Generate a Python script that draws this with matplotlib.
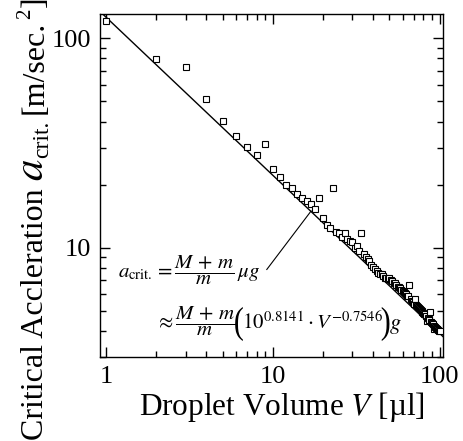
import matplotlib
matplotlib.use("Agg")
import matplotlib.pyplot as plt
from matplotlib.ticker import NullFormatter
from matplotlib.transforms import IdentityTransform, Affine2D
from matplotlib.textpath import TextPath
from matplotlib.patches import PathPatch
from matplotlib.font_manager import FontProperties

# ─── Data ────────────────────────────────────────────────────────────────────
volume = list(range(1, 101))  # droplet volume [µl]
accel = [
    121, 79.9, 73.1, 51.2, 40.3, 34.0, 30.1, 27.6, 31.1, 23.7,
    21.8, 19.9, 19.2, 18.1, 17.2, 16.7, 16.1, 15.3, 17.2, 13.9,
    12.8, 12.4, 19.3, 11.9, 11.7, 11.3, 11.7, 11.0, 10.8, 10.6,
    10.0, 10.2, 9.6, 11.7, 9.3, 9.0, 8.8, 8.6, 8.3, 8.1,
    7.9, 7.7, 7.6, 7.5, 7.45, 7.3, 7.2, 7.2, 7.1, 7.2,
    7.0, 6.9, 6.8, 6.75, 6.6, 6.5, 6.5, 6.4, 6.3, 6.2,
    6.15, 6.1, 6.0, 5.9, 5.85, 6.65, 5.7, 5.55, 5.5, 5.4,
    5.7, 5.35, 5.25, 5.2, 5.15, 5.1, 5.05, 5.0, 4.95, 4.9,
    4.85, 4.8, 4.7, 4.46, 4.6, 4.55, 4.5, 4.95, 4.4, 4.35,
    4.3, 4.1, 4.25, 4.2, 4.15, 4.1, 4.1, 4.05, 4.0, 4.0,
]

# fitted power law, end points
fit_volume = [0.96, 105]
fit_accel = [130, 3.76]

# leader from the formula to the fit line
leader_volume = [9.21, 16.97]
leader_accel = [7.87, 14.96]

x_ticks = [1, 10, 100]
y_ticks = [10, 100]

plt.rcParams.update({
    "font.family": ["Liberation Serif", "DejaVu Serif"],
    "mathtext.fontset": "stix",
    "axes.linewidth": 1.0,
})

fig = plt.figure(figsize=(4.63, 4.41), dpi=100)
ax = fig.add_axes([0.215, 0.190, 0.742, 0.778])
H = 441  # figure height in px, for placing pieces in display coords

ax.plot(fit_volume, fit_accel, color="black", linewidth=1.0, zorder=2)
ax.plot(volume, accel, "s", markersize=5, markerfacecolor="white",
        markeredgecolor="black", markeredgewidth=0.8, zorder=3)
ax.plot(leader_volume, leader_accel, color="black", linewidth=0.8, zorder=2)

ax.set_xscale("log")
ax.set_yscale("log")
ax.set_xlim(0.915, 105)
ax.set_ylim(3.0, 130.3)

ax.set_xticks(x_ticks)
ax.set_xticklabels([str(v) for v in x_ticks])
ax.set_yticks(y_ticks)
ax.set_yticklabels([str(v) for v in y_ticks])
ax.xaxis.set_minor_formatter(NullFormatter())
ax.yaxis.set_minor_formatter(NullFormatter())
ax.tick_params(which="both", direction="in", top=True, right=True,
               width=1.0, labelsize=19, pad=6)
ax.tick_params(which="major", length=7)
ax.tick_params(which="minor", length=4)

ax.set_xlabel("Droplet Volume $V$ [\u00b5l]", fontsize=22.5, labelpad=2)
ax.xaxis.label.set_x(0.53)

renderer = fig.canvas.get_renderer()
ident = IdentityTransform()

# formula, first line
fig.text(118, H - 270, r"$a_{\rm crit.} = \dfrac{M\,+\,m}{m}\,\mu g$",
         fontsize=15, ha="left", va="center", transform=ident)


def tall_paren(ch, x_left, y_center, em=30, stretch=1.25):
    """Draw a vertically stretched parenthesis; return its right edge."""
    path = TextPath((0, 0), ch, size=em,
                    prop=FontProperties(family="Liberation Serif"))
    path = Affine2D().scale(1.0, stretch).transform_path(path)
    ext = path.get_extents()
    path = Affine2D().translate(x_left - ext.x0,
                                y_center - (ext.y0 + ext.y1) / 2).transform_path(path)
    fig.patches.append(PathPatch(path, facecolor="black", edgecolor="none",
                                 transform=ident, figure=fig))
    return x_left + ext.width


# formula, second line: pieces chained left to right
bar_y = H - 321
paren_y = H - 324
base_y = H - 329
pos_x = 155
t = fig.text(pos_x, bar_y, r"$\approx\dfrac{M\,+\,m}{m}$", fontsize=15,
             ha="left", va="center", transform=ident)
pos_x = t.get_window_extent(renderer).x1
pos_x = tall_paren("(", pos_x, paren_y) - 1
t = fig.text(pos_x, base_y, r"$10^{0.8141}\cdot V^{-0.7546}$", fontsize=15,
             ha="left", va="baseline", transform=ident)
pos_x = t.get_window_extent(renderer).x1 - 1
pos_x = tall_paren(")", pos_x, paren_y)
fig.text(pos_x, base_y, r"$g$", fontsize=16, ha="left", va="baseline",
         transform=ident)

# y label built from pieces (large italic a, subscript, superscript)
base_x = 43
pos_y = 1.0
pieces = [
    ("Critical Accleration", 23, 0, 7),
    ("$a$", 31, 0, 1),
    ("crit.", 17, 5, 7),
    ("[m/sec.", 23, 0, 1),
    ("2", 15, -13, 2),
    ("]", 23, 0, 0),
]
for txt, size, dx, gap in pieces:
    t = fig.text(base_x + dx, pos_y, txt, fontsize=size, rotation=90,
                 rotation_mode="anchor", ha="left", va="baseline",
                 transform=ident)
    pos_y = t.get_window_extent(renderer).y1 + gap

fig.savefig("out.png", dpi=100)
plt.close(fig)
